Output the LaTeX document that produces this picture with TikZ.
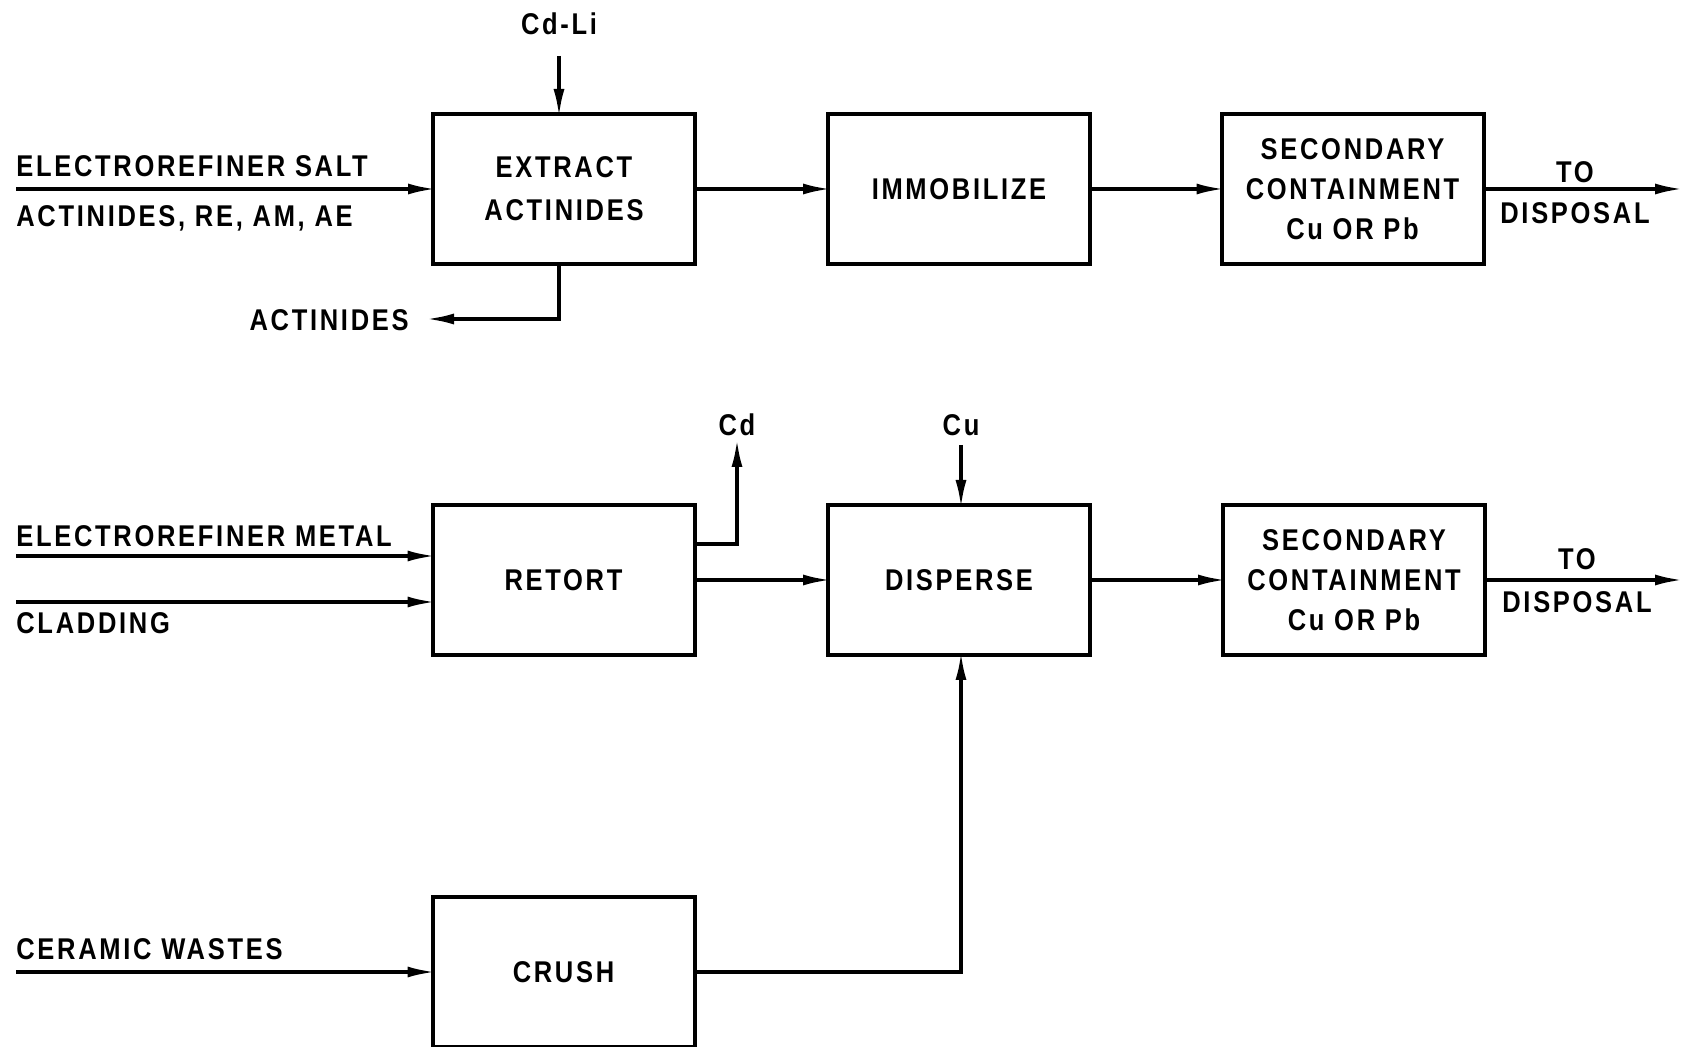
\documentclass[tikz,border=0pt]{standalone}
\usepackage{fontspec}
\setmainfont{Liberation Sans}[LetterSpace=9,FakeStretch=0.85]
\usetikzlibrary{arrows.meta}
\begin{document}
\begin{tikzpicture}[x=0.5pt,y=-0.5pt,
  box/.style={draw,line width=2pt,outer sep=0pt,minimum width=131pt,minimum height=75pt,align=center,inner sep=0pt,font=\bfseries\fontsize{15}{20}\selectfont},
  lbl/.style={font=\bfseries\fontsize{15}{20}\selectfont,inner sep=0pt},
  flow/.style={line width=1.7pt,shorten >=-1.5pt,-{Latex[length=14pt,width=5.5pt]}},
  wire/.style={line width=1.7pt}]
\useasboundingbox (0,0) rectangle (1682,1047);
% boxes
\node[box] (ext) at (564,189) {EXTRACT\\[1.5pt]ACTINIDES};
\node[box] (imm) at (959,189) {IMMOBILIZE};
\node[box] (sec1) at (1352.5,189) {SECONDARY\\CONTAINMENT\\Cu OR Pb};
\node[box] (ret) at (563.5,580) {RETORT};
\node[box] (dis) at (959,580) {DISPERSE};
\node[box] (sec2) at (1354,580) {SECONDARY\\CONTAINMENT\\Cu OR Pb};
\node[box] (cru) at (563.5,972) {CRUSH};
% top row
\coordinate (inS) at (16,189);
\draw[flow] (inS) -- (inS -| ext.west);
\node[lbl,anchor=west] (lS1) at (16,166) {ELECTROREFINER SALT};
\node[lbl,anchor=west] (lS2) at (16,218) {ACTINIDES, RE, AM, AE};
\node[lbl] (cdli) at (559,24) {Cd-Li};
\coordinate (cdtop) at (559,56);
\draw[flow] (cdtop) -- (cdtop |- ext.north);
\coordinate (actc) at (559,319);
\coordinate (actend) at (429,319);
\draw[flow] (actc |- ext.south) -- (actc) -- (actend);
\node[lbl,anchor=east] (lact) at (409,320) {ACTINIDES};
\draw[flow] (ext.east) -- (imm.west);
\draw[flow] (imm.east) -- (sec1.west);
\coordinate (out1) at (1680,189);
\draw[flow] (sec1.east) -- (out1);
\node[lbl] (to1) at (1575,172) {TO};
\node[lbl] (dp1) at (1575,213) {DISPOSAL};
% middle row
\node[lbl] (cd) at (737,425) {Cd};
\coordinate (cdk) at (737,544);
\coordinate (cdup) at (737,442);
\draw[flow] (ret.east |- cdk) -- (cdk) -- (cdup);
\node[lbl] (cu) at (961,425) {Cu};
\coordinate (cutop) at (961,445);
\draw[flow] (cutop) -- (cutop |- dis.north);
\coordinate (inM) at (16,556);
\draw[flow] (inM) -- (inM -| ret.west);
\node[lbl,anchor=west] (lM) at (16,536) {ELECTROREFINER METAL};
\coordinate (inC) at (16,602);
\draw[flow] (inC) -- (inC -| ret.west);
\node[lbl,anchor=west] (lC) at (16,623) {CLADDING};
\draw[flow] (ret.east) -- (dis.west);
\draw[flow] (dis.east) -- (sec2.west);
\coordinate (out2) at (1680,580);
\draw[flow] (sec2.east) -- (out2);
\node[lbl] (to2) at (1577,559) {TO};
\node[lbl] (dp2) at (1577,602) {DISPOSAL};
% bottom row
\coordinate (inW) at (16,972);
\draw[flow] (inW) -- (inW -| cru.west);
\node[lbl,anchor=west] (lW) at (16,949) {CERAMIC WASTES};
\coordinate (dj) at (961,972);
\draw[flow] (cru.east) -- (dj) -- (dj |- dis.south);
\end{tikzpicture}
\end{document}
